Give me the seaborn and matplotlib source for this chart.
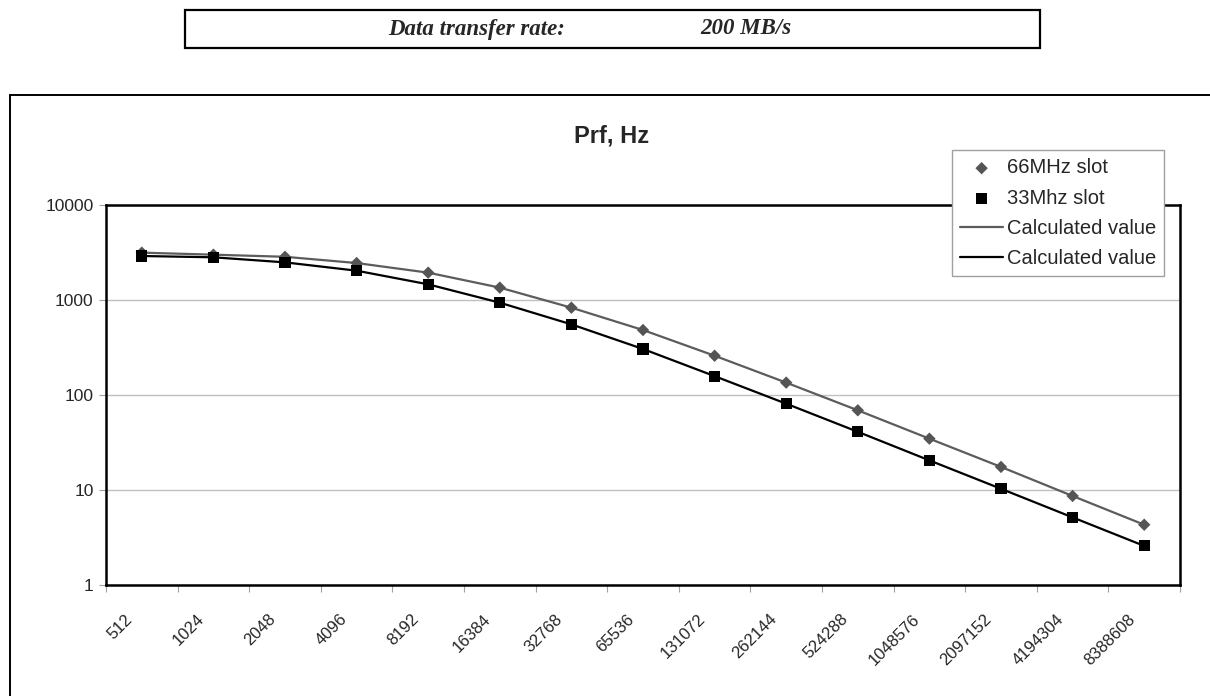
import numpy as np
import pandas as pd
import matplotlib
matplotlib.use("Agg")
import matplotlib.pyplot as plt
import matplotlib.transforms as mtransforms
from matplotlib.patches import Rectangle
import seaborn as sns

# ---- data ----
block_sizes = ["512", "1024", "2048", "4096", "8192", "16384", "32768", "65536",
               "131072", "262144", "524288", "1048576", "2097152", "4194304", "8388608"]
slot66 = [3150, 3000, 2850, 2450, 1940, 1350, 830, 483, 259, 135, 69, 34.7, 17.5, 8.65, 4.31]
slot33 = [2905, 2815, 2490, 2035, 1462, 937, 554, 305, 158, 81, 41, 20.5, 10.3, 5.15, 2.58]
calc66 = [3150, 3000, 2850, 2450, 1940, 1350, 830, 483, 259, 135, 69, 34.7, 17.5, 8.65, 4.31]
calc33 = [2905, 2815, 2490, 2035, 1462, 937, 554, 305, 158, 81, 41, 20.5, 10.3, 5.15, 2.58]
y_ticks = [1, 10, 100, 1000, 10000]

sns.set_style("white")
plt.rcParams['font.family'] = ['Liberation Sans', 'DejaVu Sans']

W, H = 1210, 696
fig = plt.figure(figsize=(W / 100, H / 100), dpi=100)
ax = fig.add_axes([106 / W, 1 - 585 / H, (1180 - 106) / W, (585 - 205) / H])

idx = np.arange(len(block_sizes))
df = pd.DataFrame({"idx": idx, "slot66": slot66, "slot33": slot33,
                   "calc66": calc66, "calc33": calc33})

sns.lineplot(data=df, x="idx", y="calc66", ax=ax, color="#5c5c5c", lw=1.6,
             label="Calculated value", zorder=3)
sns.lineplot(data=df, x="idx", y="calc33", ax=ax, color="black", lw=1.6,
             label="Calculated value", zorder=3)
sns.scatterplot(data=df, x="idx", y="slot66", ax=ax, marker="D", s=40,
                color="#555555", edgecolor="none", label="66MHz slot", zorder=4)
sns.scatterplot(data=df, x="idx", y="slot33", ax=ax, marker="s", s=64,
                color="black", edgecolor="none", label="33Mhz slot", zorder=4)

handles, labels = ax.get_legend_handles_labels()
ax.get_legend().remove()
order = [2, 3, 0, 1]
leg = fig.legend([handles[i] for i in order], [labels[i] for i in order],
                 loc="upper left", bbox_to_anchor=(952 / W, 1 - 150 / H),
                 frameon=True, fancybox=False, edgecolor="#a0a0a0", framealpha=1,
                 fontsize=14.5, handlelength=2.1, handletextpad=0.2,
                 borderpad=0.42, labelspacing=0.55, borderaxespad=0)
leg.get_frame().set_linewidth(1.0)

ax.set_yscale("log")
ax.set_ylim(1, 10000)
ax.set_yticks(y_ticks)
ax.set_yticklabels([str(v) for v in y_ticks], fontsize=12.5)
ax.yaxis.set_minor_locator(matplotlib.ticker.NullLocator())
ax.yaxis.grid(True, color="#c0c0c0", lw=1)
ax.set_axisbelow(True)

ax.set_xlim(-0.5, len(block_sizes) - 0.5)
ax.set_xticks(np.arange(-0.5, len(block_sizes), 1))
ax.set_xticklabels([])
ax.set_xticks(idx, minor=True)
ax.set_xticklabels(block_sizes, minor=True, rotation=45, ha="right",
                   rotation_mode="anchor", fontsize=12)
ax.tick_params(axis="x", which="major", length=5, color="#a0a0a0", direction="out",
               bottom=True)
ax.tick_params(axis="x", which="minor", length=0, pad=19)
ax.tick_params(axis="y", length=5, color="#a0a0a0", direction="out", left=True, pad=4)
offset = mtransforms.ScaledTranslation(-17 / 100, 0, fig.dpi_scale_trans)
for lbl in ax.xaxis.get_minorticklabels():
    lbl.set_transform(lbl.get_transform() + offset)

ax.set_xlabel("")
ax.set_ylabel("")
for sp in ax.spines.values():
    sp.set_visible(True)
    sp.set_color("black")
    sp.set_linewidth(1.8)

# chart title
fig.text(612 / W, 1 - 136 / H, "Prf, Hz", fontsize=17, fontweight="bold",
         ha="center", va="center")

# outer chart frame
fig.add_artist(Rectangle((10 / W, -0.05), 1.2, (1 - 95 / H) + 0.05,
                         transform=fig.transFigure, fill=False, lw=1.4,
                         edgecolor="black", clip_on=False))

# header box
fig.add_artist(Rectangle((185 / W, 1 - 48 / H), (1040 - 185) / W, 38 / H,
                         transform=fig.transFigure, fill=False, lw=1.6,
                         edgecolor="black"))
fig.text(388 / W, 1 - 29 / H, "Data transfer rate:", family="Liberation Serif",
         fontweight="bold", style="italic", fontsize=16.5, va="center", ha="left")
fig.text(700 / W, 1 - 29 / H, "200 MB/s", family="Liberation Serif",
         fontweight="bold", style="italic", fontsize=16.5, va="center", ha="left")

fig.savefig("out.png", dpi=100)
